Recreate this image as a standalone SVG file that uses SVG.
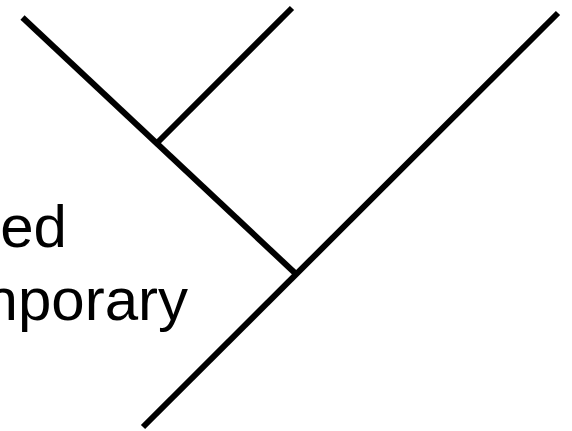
<svg xmlns="http://www.w3.org/2000/svg" width="572" height="431" viewBox="0 0 572 431">
<style>
.br{stroke:#000;stroke-width:6;fill:none;stroke-linecap:butt}
.lbl{font-family:"Liberation Sans",Arial,sans-serif;font-size:60px;fill:#000;text-anchor:end}
</style>
<rect width="572" height="431" fill="#fff"/>
<g id="labels">
<text id="label1" class="lbl" x="67" y="247">ed</text>
<text id="label2" class="lbl" x="188" y="320">nporary</text>
</g>
<g id="connectors">
<line class="br" x1="22.5" y1="17.5" x2="296" y2="274"/>
<line class="br" x1="157" y1="143" x2="292" y2="8"/>
<line class="br" x1="143" y1="427" x2="558" y2="13"/>
</g>
</svg>
